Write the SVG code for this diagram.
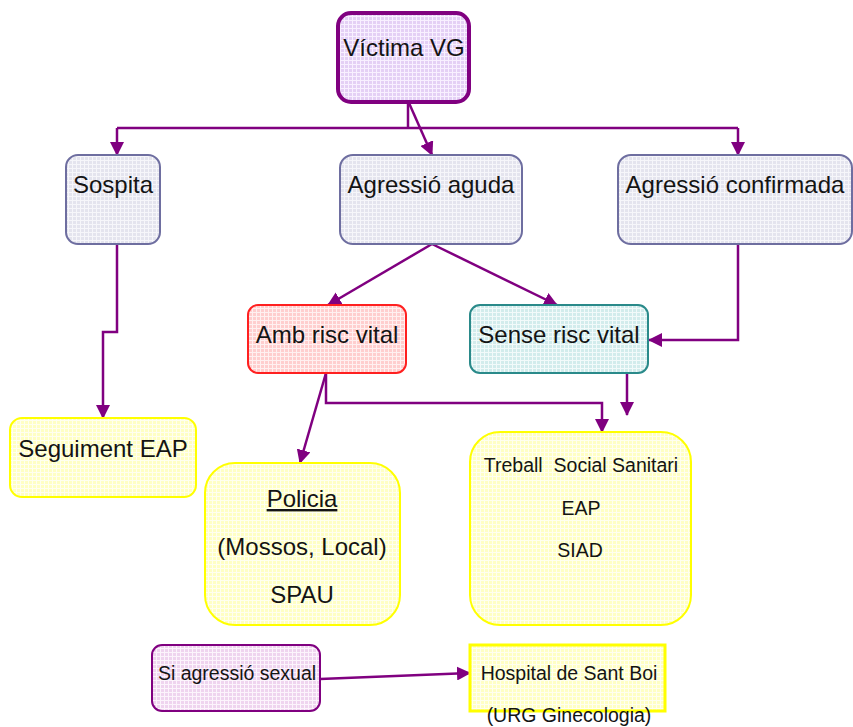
<svg xmlns="http://www.w3.org/2000/svg" width="853" height="727" viewBox="0 0 853 727">
  <defs>
    <pattern id="pPurple" width="4" height="4" patternUnits="userSpaceOnUse">
      <rect width="4" height="4" fill="#e4d0f5"/>
      <path d="M0 0.5H4M0.5 0V4" stroke="#f8f0ff" stroke-width="1"/>
    </pattern>
    <pattern id="pGray" width="4" height="4" patternUnits="userSpaceOnUse">
      <rect width="4" height="4" fill="#e4e4ee"/>
      <path d="M0 0.5H4M0.5 0V4" stroke="#f6f6fa" stroke-width="1"/>
    </pattern>
    <pattern id="pRed" width="4" height="4" patternUnits="userSpaceOnUse">
      <rect width="4" height="4" fill="#ffcece"/>
      <path d="M0 0.5H4M0.5 0V4" stroke="#fff0f0" stroke-width="1"/>
    </pattern>
    <pattern id="pTeal" width="4" height="4" patternUnits="userSpaceOnUse">
      <rect width="4" height="4" fill="#d2ecec"/>
      <path d="M0 0.5H4M0.5 0V4" stroke="#f2fafa" stroke-width="1"/>
    </pattern>
    <pattern id="pYellow" width="4" height="4" patternUnits="userSpaceOnUse">
      <rect width="4" height="4" fill="#ffffc4"/>
      <path d="M0 0.5H4M0.5 0V4" stroke="#fffff0" stroke-width="1"/>
    </pattern>
    <pattern id="pPink" width="4" height="4" patternUnits="userSpaceOnUse">
      <rect width="4" height="4" fill="#efd4ef"/>
      <path d="M0 0.5H4M0.5 0V4" stroke="#fcf4fc" stroke-width="1"/>
    </pattern>
    <marker id="arr" markerUnits="userSpaceOnUse" markerWidth="14" markerHeight="14" refX="13" refY="7" orient="auto">
      <path d="M0 0L14 7L0 14Z" fill="#800080"/>
    </marker>
  </defs>
  <style>
    text { font-family: "Liberation Sans", Arial, sans-serif; fill: #141414; text-anchor: middle; }
    .big { font-size: 24px; }
    .sm { font-size: 19.5px; }
    .con { fill: none; stroke: #800080; stroke-width: 2.5; marker-end: url(#arr); }
    .con0 { fill: none; stroke: #800080; stroke-width: 2.5; }
  </style>

  <g id="connectors">
    <path class="con0" d="M408 102V128"/>
    <path class="con0" d="M117 128H738"/>
    <path class="con" d="M117 128V155"/>
    <path class="con" d="M738 128V155"/>
    <path class="con" d="M409 103L432 155"/>
    <path class="con" d="M432 244L328 305"/>
    <path class="con" d="M432 244L557 305"/>
    <path class="con" d="M738 244V340H649"/>
    <path class="con" d="M627 373V415"/>
    <path class="con" d="M326 373V403H602V432"/>
    <path class="con" d="M326 373L300 463"/>
    <path class="con" d="M117 244V332H103V418"/>
    <path class="con" d="M320 679L470 673"/>
  </g>

  <g id="victima">
    <rect x="338" y="13" width="131" height="89" rx="13" fill="url(#pPurple)" stroke="#800080" stroke-width="4"/>
    <text class="big" x="404" y="56">Víctima VG</text>
  </g>
  <g id="sospita">
    <rect x="66" y="155" width="94" height="89" rx="12" fill="url(#pGray)" stroke="#6e6ea0" stroke-width="2"/>
    <text class="big" x="113" y="193">Sospita</text>
  </g>
  <g id="agressio-aguda">
    <rect x="340" y="155" width="182" height="89" rx="13" fill="url(#pGray)" stroke="#6e6ea0" stroke-width="2"/>
    <text class="big" x="431" y="193">Agressió aguda</text>
  </g>
  <g id="agressio-confirmada">
    <rect x="618" y="155" width="234" height="89" rx="13" fill="url(#pGray)" stroke="#6e6ea0" stroke-width="2"/>
    <text class="big" x="735" y="193">Agressió confirmada</text>
  </g>
  <g id="amb-risc">
    <rect x="248" y="305" width="158" height="68" rx="10" fill="url(#pRed)" stroke="#ff2020" stroke-width="2"/>
    <text class="big" x="327" y="343">Amb risc vital</text>
  </g>
  <g id="sense-risc">
    <rect x="470" y="305" width="178" height="68" rx="10" fill="url(#pTeal)" stroke="#2a8a8a" stroke-width="2"/>
    <text class="big" x="559" y="343">Sense risc vital</text>
  </g>
  <g id="seguiment">
    <rect x="10" y="418" width="186" height="79" rx="12" fill="url(#pYellow)" stroke="#ffff00" stroke-width="2"/>
    <text class="big" x="103" y="457">Seguiment EAP</text>
  </g>
  <g id="policia">
    <rect x="205" y="463" width="195" height="162" rx="30" fill="url(#pYellow)" stroke="#ffff00" stroke-width="2"/>
    <text class="big" x="302" y="507" text-decoration="underline">Policia</text>
    <text class="big" x="302" y="555">(Mossos, Local)</text>
    <text class="big" x="302" y="603">SPAU</text>
  </g>
  <g id="treball">
    <rect x="470" y="432" width="221" height="193" rx="30" fill="url(#pYellow)" stroke="#ffff00" stroke-width="2"/>
    <text class="sm" x="581" y="472" style="white-space:pre">Treball  Social Sanitari</text>
    <text class="sm" x="581" y="515">EAP</text>
    <text class="sm" x="580" y="557">SIAD</text>
  </g>
  <g id="si-agressio">
    <rect x="152" y="645" width="168" height="66" rx="10" fill="url(#pPink)" stroke="#800080" stroke-width="2"/>
    <text class="sm" x="237" y="680">Si agressió sexual</text>
  </g>
  <g id="hospital">
    <rect x="470" y="645" width="195" height="66" fill="url(#pYellow)" stroke="#ffff00" stroke-width="3"/>
    <text class="sm" x="569" y="680">Hospital de Sant Boi</text>
    <text class="sm" x="569" y="722">(URG Ginecologia)</text>
  </g>
</svg>
